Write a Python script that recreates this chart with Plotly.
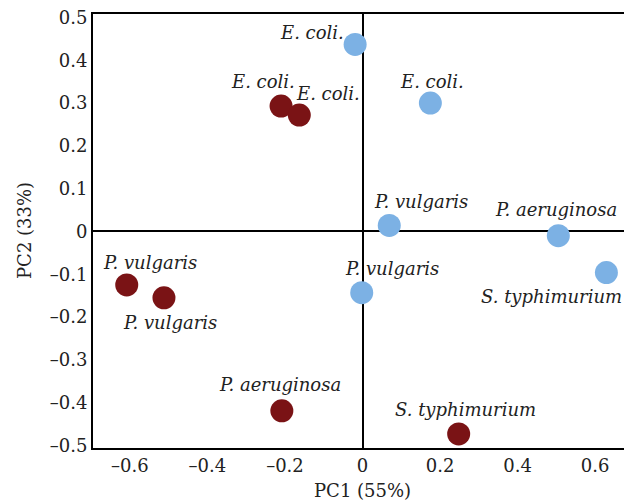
import plotly.graph_objects as go

# Group 1 (light blue)
blue_labels = ["E. coli.", "E. coli.", "P. vulgaris", "P. aeruginosa", "P. vulgaris", "S. typhimurium"]
blue_pc1 = [-0.019, 0.175, 0.069, 0.505, -0.002, 0.629]
blue_pc2 = [0.437, 0.300, 0.014, -0.010, -0.143, -0.096]

# Group 2 (dark red)
red_labels = ["E. coli.", "E. coli.", "P. vulgaris", "P. vulgaris", "P. aeruginosa", "S. typhimurium"]
red_pc1 = [-0.210, -0.163, -0.608, -0.512, -0.208, 0.248]
red_pc2 = [0.293, 0.272, -0.125, -0.155, -0.419, -0.473]

x_ticks = [-0.6, -0.4, -0.2, 0, 0.2, 0.4, 0.6]
x_ticktext = ["\u20130.6", "\u20130.4", "\u20130.2", "0", "0.2", "0.4", "0.6"]
y_ticks = [0.5, 0.4, 0.3, 0.2, 0.1, 0, -0.1, -0.2, -0.3, -0.4, -0.5]
y_ticktext = ["0.5", "0.4", "0.3", "0.2", "0.1", "0", "\u20130.1", "\u20130.2", "\u20130.3", "\u20130.4", "\u20130.5"]

# label offsets in pixels (dx right, dy up) relative to each point
blue_offsets = [(-43, 12), (2, 22), (32, 24), (-2, 26), (30, 24), (-55, -24)]
red_offsets = [(-18, 25), (29, 22), (23, 22), (6, -25), (-2, 26), (7, 24)]

BLUE = "#7cb1e4"
RED = "#7a1315"
FONT = "DejaVu Serif"
FS = 18

fig = go.Figure()
fig.add_trace(go.Scatter(x=blue_pc1, y=blue_pc2, mode="markers",
                         marker=dict(size=23, color=BLUE, line=dict(width=0)),
                         showlegend=False, hoverinfo="skip"))
fig.add_trace(go.Scatter(x=red_pc1, y=red_pc2, mode="markers",
                         marker=dict(size=23, color=RED, line=dict(width=0)),
                         showlegend=False, hoverinfo="skip"))

annotations = []
for xs, ys, labs, offs in [(blue_pc1, blue_pc2, blue_labels, blue_offsets),
                           (red_pc1, red_pc2, red_labels, red_offsets)]:
    for x, y, t, (dx, dy) in zip(xs, ys, labs, offs):
        annotations.append(dict(x=x, y=y, xref="x", yref="y", text="<i>%s</i>" % t,
                                showarrow=False, xshift=dx, yshift=dy,
                                xanchor="center", yanchor="middle",
                                font=dict(family=FONT, size=FS, color="#222222")))

# axis titles
annotations.append(dict(x=0.5, y=0, xref="paper", yref="paper", text="PC1 (55%)",
                        showarrow=False, xanchor="center", yanchor="middle", yshift=-42,
                        font=dict(family=FONT, size=FS, color="#222222")))
annotations.append(dict(x=0, y=0.5, xref="paper", yref="paper", text="PC2 (33%)",
                        showarrow=False, xanchor="center", yanchor="middle", xshift=-69,
                        textangle=-90, font=dict(family=FONT, size=FS, color="#222222")))

fig.update_layout(
    width=624, height=493,
    margin=dict(l=85, r=0, t=6, b=53),
    paper_bgcolor="white", plot_bgcolor="white",
    font=dict(family=FONT, size=FS, color="#222222"),
    annotations=annotations,
    xaxis=dict(range=[-0.695, 0.695], tickvals=x_ticks, ticktext=x_ticktext,
               automargin=False, ticklabeloverflow="allow",
               showgrid=False, zeroline=True, zerolinecolor="black", zerolinewidth=2,
               showline=True, mirror=True, linecolor="black", linewidth=2,
               ticks="", ticklen=0),
    yaxis=dict(range=[-0.506, 0.508], tickvals=y_ticks, ticktext=y_ticktext,
               automargin=False, ticklabeloverflow="allow",
               showgrid=False, zeroline=True, zerolinecolor="black", zerolinewidth=2,
               showline=True, mirror=True, linecolor="black", linewidth=2,
               ticks="", ticklen=0),
)

fig.write_html("out.html")
